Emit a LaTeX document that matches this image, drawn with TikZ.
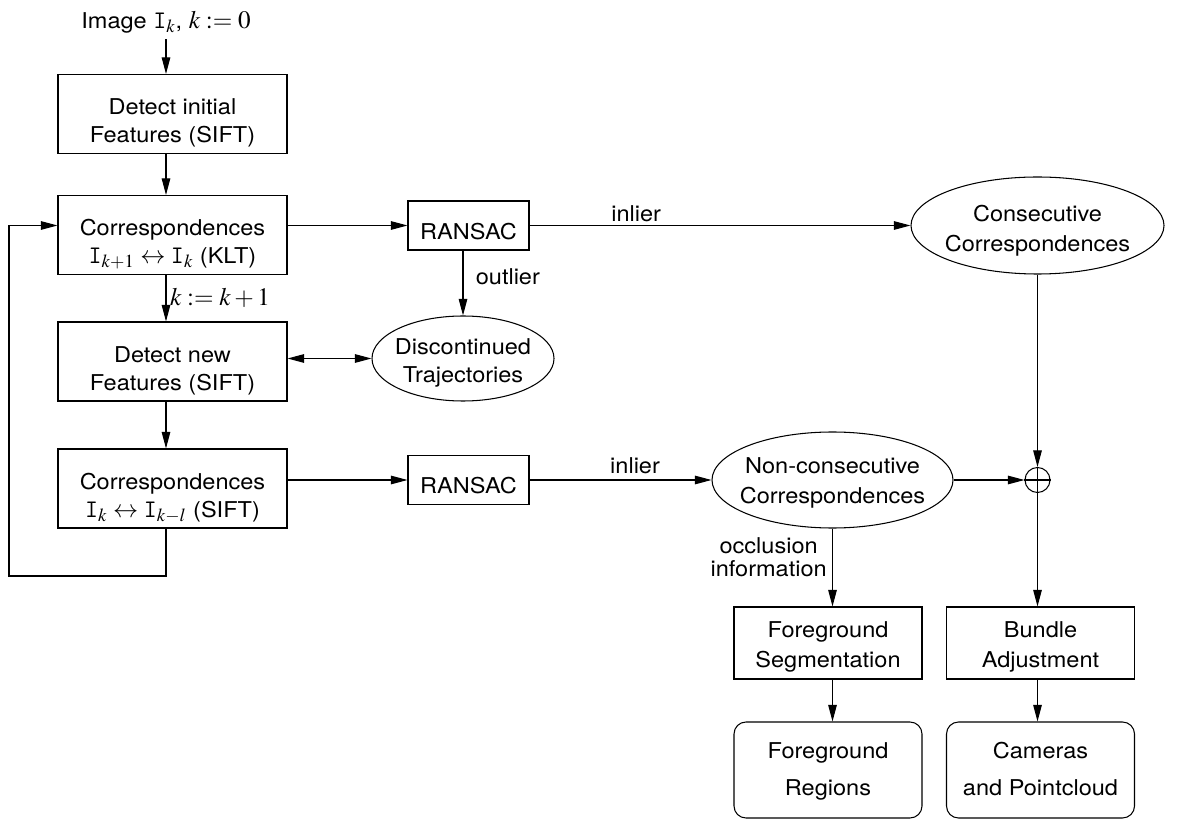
\documentclass[tikz,border=0pt]{standalone}
\usepackage{amsmath,amssymb}
\usepackage{mathptmx}
\usepackage[no-math]{fontspec}
\setmainfont{TeX Gyre Heros}[FakeStretch=1.08]
\DeclareMathSizes{12.4}{14.3}{10.5}{8}
\usetikzlibrary{arrows.meta,shapes.geometric}

\tikzset{
  box/.style={draw, align=center, inner ysep=0pt, minimum width=4.58cm, minimum height=1.58cm, text height=32.7pt, text depth=0pt},
  ransac/.style={draw, minimum width=2.42cm, minimum height=0.98cm, text height=0.55cm},
  blob/.style={draw, ellipse, align=center, inner xsep=-0.3cm, inner ysep=0pt, text depth=0pt, font=\fontsize{12.4}{17}\selectfont},
  stage/.style={draw, align=center, inner ysep=0pt, minimum width=3.76cm, minimum height=1.44cm, text height=28.2pt, text depth=0pt, font=\fontsize{12.4}{17}\selectfont},
  result/.style={draw, rounded corners=0.24cm, align=center, inner ysep=0pt, minimum width=3.76cm, minimum height=1.92cm, text height=29.3pt, text depth=0pt, font=\fontsize{12.4}{21}\selectfont}
}

\begin{document}
\begin{tikzpicture}[>={Triangle[length=0.33cm,width=0.17cm]}, line width=0.6pt, font=\fontsize{12.4}{15.9}\selectfont]
\useasboundingbox (0,0) rectangle (23.62,-16.38);

\node (img) at (3.32,-0.44) {Image $\mathtt{I}_k$, $k:=0$};
\node [box] (detinit) at (3.45,-2.28) {Detect initial\\Features (SIFT)};
\node [box] (corr1) at (3.45,-4.70) {Correspondences\\$\mathtt{I}_{k+1}\leftrightarrow\mathtt{I}_k$ (KLT)};
\node [box] (detnew) at (3.45,-7.23) {Detect new\\Features (SIFT)};
\node [box] (corr2) at (3.45,-9.77) {Correspondences\\$\mathtt{I}_k\leftrightarrow\mathtt{I}_{k-l}$ (SIFT)};
\coordinate (back) at (0.18,-11.52);

\node [ransac] (ransacA) at (9.37,-4.51) {RANSAC};
\node [ransac] (ransacB) at (9.37,-9.60) {RANSAC};
\node [blob, minimum width=3.64cm, minimum height=1.70cm, text height=27.1pt, font=\fontsize{12.4}{15.9}\selectfont] (disc) at (9.26,-7.17) {Discontinued\\Trajectories};
\node [blob, minimum width=5.06cm, minimum height=1.94cm, text height=29.8pt] (cons) at (20.75,-4.51) {Consecutive\\Correspondences};
\node [blob, minimum width=4.82cm, minimum height=1.92cm, text height=27pt] (noncons) at (16.65,-9.60) {Non-consecutive\\Correspondences};
\node [draw, circle, minimum size=0.5cm, inner sep=0pt] (sum) at (20.75,-9.60) {};
\draw (sum.north) -- (sum.south) (sum.west) -- (sum.east);

\node [stage] (fgseg) at (16.56,-12.86) {Foreground\\Segmentation};
\node [stage] (bundle) at (20.81,-12.86) {Bundle\\Adjustment};
\node [result] (fgreg) at (16.56,-15.40) {Foreground\\Regions};
\node [result] (cams) at (20.81,-15.40) {Cameras\\and Pointcloud};

%------------\\

\draw [->] (img) -- (detinit.north -| img);
\draw [->] (detinit.south -| img) -- (corr1.north -| img);
\draw [->] (corr1.south -| img) -- node [right, inner sep=2pt] (kinc) {$k:=k+1$} (detnew.north -| img);
\draw [->] (detnew.south -| img) -- (corr2.north -| img);
\draw [->] (corr2.south -| img) |- (back) |- (corr1.west |- ransacA);

\draw [->] (corr1.east |- ransacA) -- (ransacA);
\draw [->] (ransacA) -- node [above, pos=0.28, inner sep=2pt] (inA) {inlier} (cons);
\draw [->] (ransacA.south -| disc) -- node [right, pos=0.4, inner sep=7pt] (outl) {outlier} (disc);
\draw [<->] (detnew.east |- disc) -- (disc);

\draw [->] (corr2.east |- ransacB) -- (ransacB);
\draw [->] (ransacB) -- node [above, pos=0.58, inner sep=3pt] (inB) {inlier} (noncons);
\draw [->] (noncons) -- (sum);
\draw [->] (cons) -- (sum);

\draw [->] (noncons) -- node [left, pos=0.37, align=center, inner sep=3pt, font=\fontsize{12.4}{13}\selectfont] (occl) {occlusion\\information} (noncons |- fgseg.north);
\draw [->] (sum) -- (sum |- bundle.north);
\draw [->] (noncons |- fgseg.south) -- (noncons |- fgreg.north);
\draw [->] (sum |- bundle.south) -- (sum |- cams.north);
\end{tikzpicture}
\end{document}
